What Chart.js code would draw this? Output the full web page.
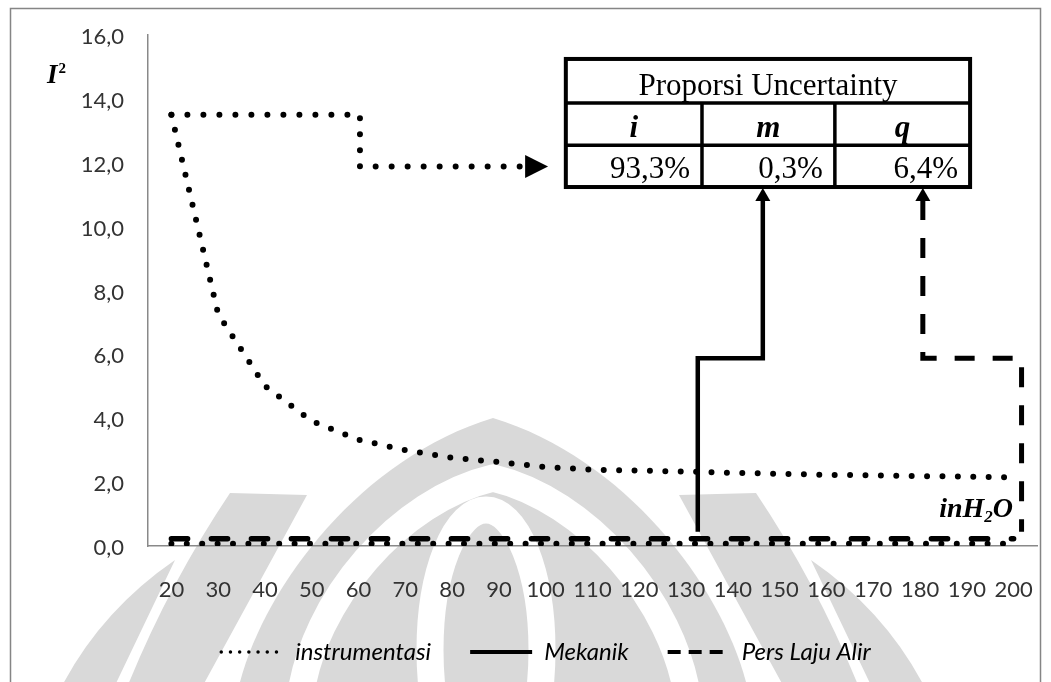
<!DOCTYPE html>
<html>
<head>
<meta charset="utf-8">
<script src="https://cdn.jsdelivr.net/npm/chart.js@4.4.1/dist/chart.umd.min.js"></script>
<style>
  html, body { margin: 0; padding: 0; background: #fff; }
  #wrap { width: 1051px; height: 682px; position: relative; }
</style>
</head>
<body>
<div id="wrap"><canvas id="chart" width="1051" height="682"></canvas></div>
<script>
// Flow rate categories (x axis)
const categories = [20, 30, 40, 50, 60, 70, 80, 90, 100, 110, 120, 130, 140, 150, 160, 170, 180, 190, 200];

// Squared uncertainty per component
const instrumentasi = [13.50, 7.26, 5.01, 3.91, 3.33, 3.00, 2.76, 2.63, 2.47, 2.39, 2.36, 2.33, 2.29, 2.26, 2.23, 2.21, 2.19, 2.17, 2.15];
const mekanik = [0.07, 0.07, 0.07, 0.07, 0.07, 0.07, 0.07, 0.07, 0.07, 0.07, 0.07, 0.07, 0.07, 0.07, 0.07, 0.07, 0.07, 0.07, 0.07];
const persLajuAlir = [0.23, 0.23, 0.23, 0.23, 0.23, 0.23, 0.23, 0.23, 0.23, 0.23, 0.23, 0.23, 0.23, 0.23, 0.23, 0.23, 0.23, 0.23, 0.23];

// Y axis ticks
const yTicks = [0, 2, 4, 6, 8, 10, 12, 14, 16];

// Share table
const tableTitle = 'Proporsi Uncertainty';
const tableHeaders = ['i', 'm', 'q'];
const tableShares = [93.3, 0.3, 6.4];

const fmtComma = (v, d) => v.toFixed(d).replace('.', ',');

// Legend sample styles (thinner than the plotted lines)
const legendLook = [
  { lineWidth: 3.5, lineDash: [0, 9.2], lineCap: 'round' },
  { lineWidth: 4, lineDash: [], lineCap: 'butt' },
  { lineWidth: 4, lineDash: [13, 8], lineCap: 'butt' }
];

// Light emblem behind the plot
function drawEmblem(ctx) {
  ctx.save();
  ctx.fillStyle = '#d9d9d9';

  // central flame
  ctx.beginPath();
  ctx.moveTo(236, 700);
  ctx.bezierCurveTo(254, 600, 354, 460, 493, 418);
  ctx.bezierCurveTo(632, 460, 732, 600, 750, 700);
  ctx.closePath();
  ctx.fill();

  // side wings
  ctx.beginPath();
  ctx.moveTo(230, 493);
  ctx.lineTo(307, 495);
  ctx.lineTo(195, 700);
  ctx.lineTo(122, 700);
  ctx.quadraticCurveTo(165, 590, 230, 493);
  ctx.closePath();
  ctx.moveTo(756, 493);
  ctx.lineTo(679, 495);
  ctx.lineTo(791, 700);
  ctx.lineTo(864, 700);
  ctx.quadraticCurveTo(821, 590, 756, 493);
  ctx.closePath();
  ctx.fill();

  // outer petals
  ctx.beginPath();
  ctx.moveTo(55, 700);
  ctx.quadraticCurveTo(95, 615, 175, 560);
  ctx.lineTo(108, 700);
  ctx.closePath();
  ctx.moveTo(931, 700);
  ctx.quadraticCurveTo(891, 615, 811, 560);
  ctx.lineTo(878, 700);
  ctx.closePath();
  ctx.fill();

  // inner white arch and ring
  ctx.strokeStyle = '#ffffff';
  ctx.lineWidth = 27;
  ctx.beginPath();
  ctx.moveTo(300, 700);
  ctx.bezierCurveTo(312, 600, 400, 500, 493, 478);
  ctx.bezierCurveTo(586, 500, 674, 600, 688, 700);
  ctx.stroke();

  ctx.lineWidth = 27;
  ctx.beginPath();
  ctx.ellipse(486, 650, 56, 140, 0, 0, Math.PI * 2);
  ctx.stroke();
  ctx.restore();
}

const backdrop = {
  id: 'backdrop',
  beforeDraw(chart) {
    const { ctx, width, height } = chart;
    ctx.save();
    ctx.fillStyle = '#ffffff';
    ctx.fillRect(0, 0, width, height);
    drawEmblem(ctx);
    ctx.strokeStyle = '#858585';
    ctx.lineWidth = 1.5;
    ctx.strokeRect(10.5, 8.5, 1030, 700);
    ctx.restore();
  }
};

function arrowUp(ctx, x, tipY, half, len) {
  ctx.beginPath();
  ctx.moveTo(x, tipY);
  ctx.lineTo(x - half, tipY + len);
  ctx.lineTo(x + half, tipY + len);
  ctx.closePath();
  ctx.fill();
}

const overlay = {
  id: 'overlay',
  afterDatasetsDraw(chart) {
    const { ctx } = chart;
    const X = i => chart.scales.x.getPixelForValue(i);
    const Y = v => chart.scales.y.getPixelForValue(v);

    // table frame in axis units (category index / y value)
    const cols = [8.43, 11.34, 14.18, 17.07].map(X);
    const rows = [15.25, 13.87, 12.55, 11.24].map(Y);
    const tBottom = rows[3];

    ctx.save();
    ctx.fillStyle = '#000';
    ctx.strokeStyle = '#000';

    // instrumentasi callout
    ctx.lineWidth = 6;
    ctx.lineCap = 'round';
    ctx.setLineDash([0, 16]);
    ctx.beginPath();
    ctx.moveTo(X(0), Y(instrumentasi[0]));
    ctx.lineTo(X(4.03), Y(instrumentasi[0]));
    ctx.lineTo(X(4.03), Y(11.88));
    ctx.lineTo(X(7.5), Y(11.88));
    ctx.stroke();
    ctx.setLineDash([]);
    ctx.beginPath();
    ctx.moveTo(X(8.05), Y(11.88));
    ctx.lineTo(X(7.56), Y(11.88) - 11.5);
    ctx.lineTo(X(7.56), Y(11.88) + 11.5);
    ctx.closePath();
    ctx.fill();

    // Mekanik callout
    ctx.lineCap = 'butt';
    ctx.lineJoin = 'miter';
    ctx.lineWidth = 4.5;
    ctx.beginPath();
    ctx.moveTo(X(11.25), Y(0.45));
    ctx.lineTo(X(11.25), Y(5.88));
    ctx.lineTo(X(12.64), Y(5.88));
    ctx.lineTo(X(12.64), tBottom + 12);
    ctx.stroke();
    arrowUp(ctx, X(12.64), tBottom + 1, 7.5, 13);

    // Pers Laju Alir callout
    ctx.lineWidth = 5;
    ctx.setLineDash([20, 18]);
    ctx.beginPath();
    ctx.moveTo(X(16.06), tBottom + 13);
    ctx.lineTo(X(16.06), Y(5.88));
    ctx.lineTo(X(18.17), Y(5.88));
    ctx.lineTo(X(18.17), Y(0.45));
    ctx.stroke();
    ctx.setLineDash([]);
    arrowUp(ctx, X(16.06), tBottom + 1, 7.5, 13);

    // share table
    ctx.fillStyle = '#fff';
    ctx.fillRect(cols[0], rows[0], cols[3] - cols[0], rows[3] - rows[0]);
    ctx.fillStyle = '#000';
    ctx.lineWidth = 3.5;
    ctx.beginPath();
    ctx.moveTo(cols[0], rows[1]); ctx.lineTo(cols[3], rows[1]);
    ctx.moveTo(cols[0], rows[2]); ctx.lineTo(cols[3], rows[2]);
    ctx.moveTo(cols[1], rows[1]); ctx.lineTo(cols[1], rows[3]);
    ctx.moveTo(cols[2], rows[1]); ctx.lineTo(cols[2], rows[3]);
    ctx.stroke();
    ctx.lineWidth = 4;
    ctx.strokeRect(cols[0], rows[0], cols[3] - cols[0], rows[3] - rows[0]);

    ctx.textBaseline = 'alphabetic';
    ctx.font = '31px "Liberation Serif"';
    ctx.textAlign = 'center';
    ctx.fillText(tableTitle, (cols[0] + cols[3]) / 2, rows[1] - 8);
    ctx.font = 'italic bold 31px "Liberation Serif"';
    tableHeaders.forEach((h, k) => {
      ctx.fillText(h, (cols[k] + cols[k + 1]) / 2, rows[2] - 8);
    });
    ctx.font = '31px "Liberation Serif"';
    ctx.textAlign = 'right';
    tableShares.forEach((s, k) => {
      ctx.fillText(fmtComma(s, 1) + '%', cols[k + 1] - 12, rows[3] - 9);
    });

    // unit labels
    ctx.textAlign = 'left';
    ctx.font = 'italic bold 27px "Liberation Serif"';
    ctx.fillText('I', 47, 83);
    const wI = ctx.measureText('I').width;
    ctx.font = 'bold 15px "Liberation Serif"';
    ctx.fillText('2', 47 + wI + 1, 73);

    ctx.font = 'italic bold 28px "Liberation Serif"';
    const wO = ctx.measureText('O').width;
    const wIn = ctx.measureText('inH').width;
    ctx.font = 'italic bold 17px "Liberation Serif"';
    const w2 = ctx.measureText('2').width;
    const right = 1013, base = 517;
    ctx.font = 'italic bold 28px "Liberation Serif"';
    ctx.fillText('O', right - wO, base);
    ctx.fillText('inH', right - wO - w2 - wIn, base);
    ctx.font = 'italic bold 17px "Liberation Serif"';
    ctx.fillText('2', right - wO - w2, base + 5);
    ctx.restore();
  }
};

const dotted = [0, 15.4];

new Chart(document.getElementById('chart'), {
  type: 'line',
  data: {
    labels: categories,
    datasets: [
      { label: 'instrumentasi', data: instrumentasi, borderColor: '#000', backgroundColor: '#000',
        borderWidth: 6, borderDash: dotted, borderCapStyle: 'round', pointRadius: 0, tension: 0 },
      { label: 'Mekanik', data: mekanik, borderColor: '#000', backgroundColor: '#000',
        borderWidth: 6, borderDash: dotted, borderCapStyle: 'round', pointRadius: 0, tension: 0 },
      { label: 'Pers Laju Alir', data: persLajuAlir, borderColor: '#000', backgroundColor: '#000',
        borderWidth: 5.5, borderDash: [16.2, 23.8], borderCapStyle: 'round', pointRadius: 0, tension: 0 }
    ]
  },
  options: {
    responsive: false,
    animation: false,
    devicePixelRatio: 1,
    layout: { padding: { left: 55, top: 35, right: 14, bottom: 8 } },
    scales: {
      x: {
        offset: true,
        grid: { display: false, drawTicks: false },
        border: { color: '#898989', width: 1.5 },
        ticks: { padding: 31, color: '#333333', font: { family: 'Lato', size: 22 }, maxRotation: 0, autoSkip: false },
        afterFit(s) { s.height = 55; s.paddingLeft = 0; s.paddingRight = 0; }
      },
      y: {
        min: 0, max: 16,
        grid: { display: false, drawTicks: false },
        border: { color: '#898989', width: 1.5 },
        afterBuildTicks(s) { s.ticks = yTicks.map(v => ({ value: v })); },
        ticks: { padding: 24, labelOffset: 2, color: '#333333', font: { family: 'Lato', size: 22 }, callback: v => fmtComma(v, 1) },
        afterFit(s) { s.width = 93; s.paddingTop = 0; s.paddingBottom = 0; }
      }
    },
    plugins: {
      tooltip: { enabled: false },
      legend: {
        position: 'bottom',
        labels: {
          usePointStyle: true,
          pointStyle: 'line',
          pointStyleWidth: 62,
          padding: 39,
          color: '#000',
          font: { family: 'Lato', style: 'italic', size: 24 },
          generateLabels(chart) {
            const items = Chart.defaults.plugins.legend.labels.generateLabels(chart);
            items.forEach((it, k) => Object.assign(it, legendLook[k]));
            return items;
          }
        }
      }
    }
  },
  plugins: [backdrop, overlay]
});
</script>
</body>
</html>
